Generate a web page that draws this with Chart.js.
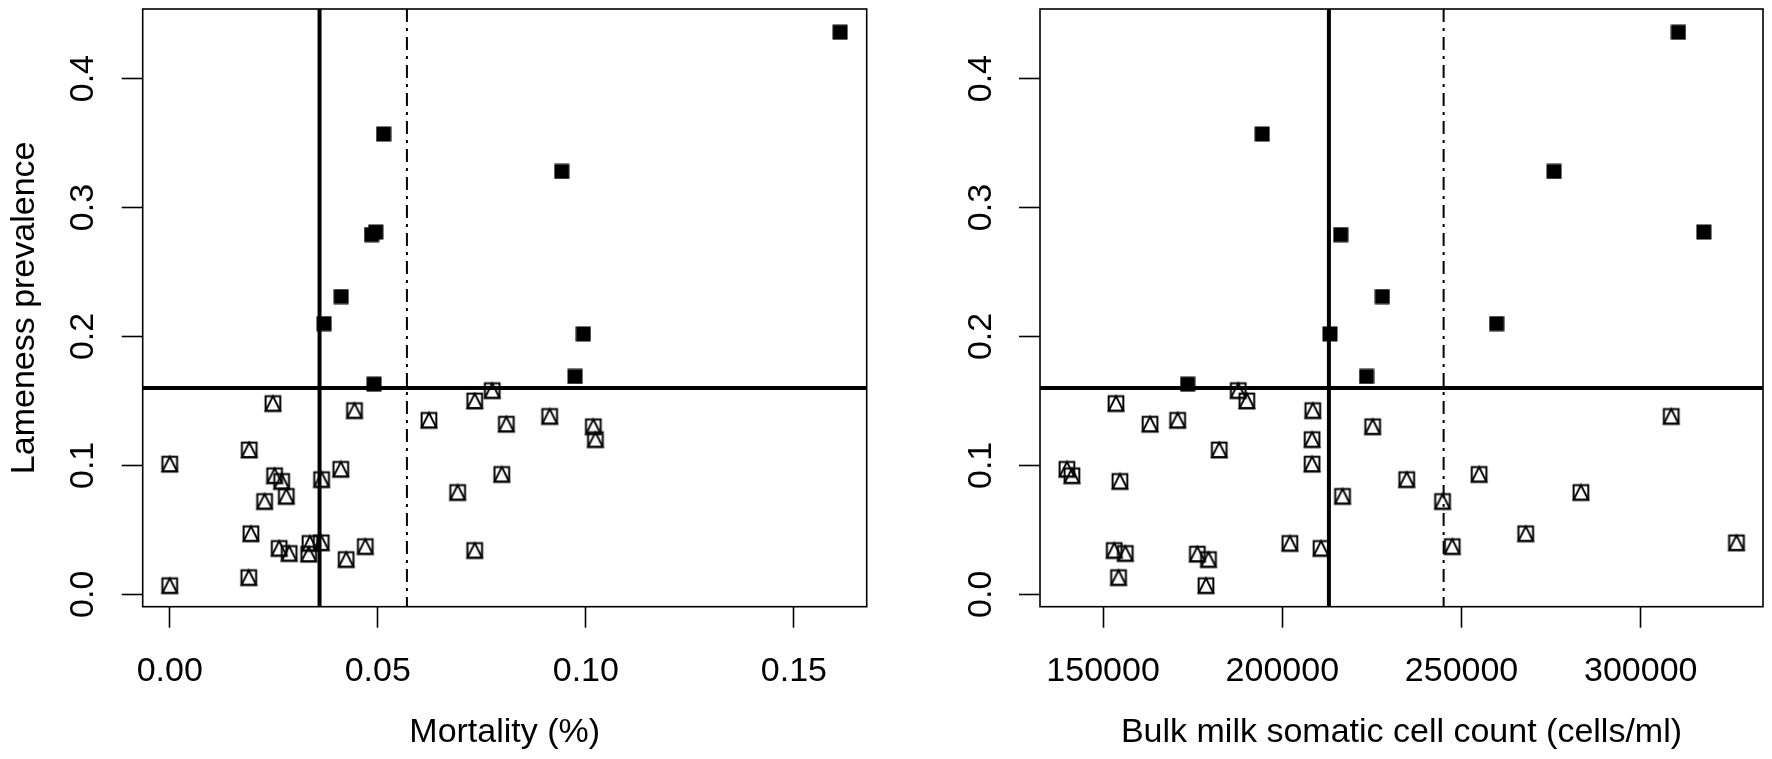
<!DOCTYPE html>
<html><head><meta charset="utf-8">
<script src="https://cdn.jsdelivr.net/npm/chart.js@4/dist/chart.umd.min.js"></script>
<style>
html,body{margin:0;padding:0;background:#fff;overflow:hidden}
#wrap{position:relative;width:1772px;height:759px;background:#fff}
.c{position:absolute;top:0;width:886px;height:759px}
</style></head><body>
<div id="wrap">
<div class="c" style="left:0"><canvas id="left" width="886" height="759"></canvas></div>
<div class="c" style="left:886px"><canvas id="right" width="886" height="759"></canvas></div>
</div>
<script>
// ---- data: farms above the lameness cut-off (filled squares)
const lamenessHigh  = [0.436, 0.357, 0.328, 0.281, 0.279, 0.231, 0.210, 0.202, 0.169, 0.163];
const mortalityHigh = [0.1611, 0.0514, 0.0942, 0.0495, 0.0485, 0.0412, 0.0371, 0.0994, 0.0974, 0.0491];
const sccHigh       = [310500, 194400, 275800, 317600, 216300, 227900, 259800, 213300, 223500, 173600];

// ---- data: farms below the lameness cut-off (square with triangle)
const lamenessLow  = [0.158, 0.150, 0.148, 0.1425, 0.138, 0.135, 0.132, 0.130, 0.120, 0.112,
                      0.101, 0.097, 0.093, 0.092, 0.089, 0.0876, 0.079, 0.076, 0.072, 0.047,
                      0.040, 0.0395, 0.037, 0.0356, 0.034, 0.0317, 0.0312, 0.027, 0.013, 0.0067];
const mortalityLow = [0.0775, 0.0733, 0.0248, 0.0444, 0.0913, 0.0623, 0.0809, 0.1018, 0.1023, 0.0191,
                      0.0000, 0.0411, 0.0798, 0.0252, 0.0365, 0.0269, 0.0692, 0.0280, 0.0228, 0.0195,
                      0.0364, 0.0337, 0.0470, 0.0263, 0.0733, 0.0287, 0.0334, 0.0424, 0.0190, 0.0000];
const sccLow       = [187700, 190100, 153600, 208500, 308500, 170800, 163100, 225200, 208300, 182400,
                      208300, 139900, 254900, 141300, 234700, 154700, 283300, 216800, 244700, 267900,
                      326700, 202100, 247400, 210800, 153100, 156200, 176300, 179400, 154300, 178700];

// ---- reference lines
const lamenessCut  = 0.16;
const mortalityCut = 0.036;
const mortalityAlt = 0.057;
const sccCut       = 213000;
const sccAlt       = 245000;

// ---- axes
const lamenessRange  = [-0.0096, 0.454];
const mortalityRange = [-0.0065, 0.1675];
const sccRange       = [132400, 334100];
const lamenessTicks  = [0.0, 0.1, 0.2, 0.3, 0.4];
const mortalityTicks = [0.00, 0.05, 0.10, 0.15];
const sccTicks       = [150000, 200000, 250000, 300000];

const FONT = '"Liberation Sans", Arial, Helvetica, sans-serif';

function markerOpen() {
  const c = document.createElement('canvas'); c.width = 20; c.height = 20;
  const g = c.getContext('2d');
  g.strokeStyle = '#000'; g.lineWidth = 2; g.lineJoin = 'miter';
  const a = 2.65, b = 17.35;
  g.strokeRect(a, a, b - a, b - a);
  g.beginPath(); g.moveTo(a, b); g.lineTo(10, a); g.lineTo(b, b); g.closePath(); g.stroke();
  return c;
}
function markerFilled() {
  const c = document.createElement('canvas'); c.width = 16; c.height = 16;
  const g = c.getContext('2d');
  g.fillStyle = '#000'; g.fillRect(0.5, 0.5, 15, 15);
  return c;
}
const openImg = markerOpen();
const fillImg = markerFilled();

const framePlugin = {
  id: 'frame',
  afterDraw(chart) {
    const {ctx, chartArea: a} = chart;
    ctx.save(); ctx.strokeStyle = '#000'; ctx.lineWidth = 1.6;
    ctx.strokeRect(a.left, a.top, a.right - a.left, a.bottom - a.top);
    ctx.restore();
  }
};

function pts(xs, ys) { return xs.map((v, i) => ({x: v, y: ys[i]})); }

function makeChart(id, cfg) {
  const hLine = [{x: cfg.xRange[0], y: lamenessCut}, {x: cfg.xRange[1], y: lamenessCut}];
  const vLine = [{x: cfg.cut, y: lamenessRange[1]}, {x: cfg.cut, y: lamenessRange[0]}];
  const dLine = [{x: cfg.alt, y: lamenessRange[1]}, {x: cfg.alt, y: lamenessRange[0]}];
  const lineDs = (data, w, dash) => ({type: 'line', data, showLine: true, borderColor: '#000',
      borderWidth: w, borderDash: dash || [], pointRadius: 0, fill: false, tension: 0, order: 0});
  return new Chart(document.getElementById(id), {
    type: 'scatter',
    data: {
      datasets: [
        {data: pts(cfg.xLow, lamenessLow), pointStyle: openImg, pointRadius: 8, order: 2},
        {data: pts(cfg.xHigh, lamenessHigh), pointStyle: fillImg, pointRadius: 8, order: 2},
        lineDs(hLine, 4),
        lineDs(vLine, 4),
        lineDs(dLine, 2, [13, 6, 3, 6])
      ]
    },
    options: {
      responsive: false, animation: false, devicePixelRatio: 1,
      layout: {padding: {left: 0, right: cfg.padRight, top: 7.3, bottom: 0}},
      plugins: {legend: {display: false}, tooltip: {enabled: false}},
      scales: {
        x: {
          type: 'linear', position: 'bottom', min: cfg.xRange[0], max: cfg.xRange[1],
          afterBuildTicks: s => { s.ticks = cfg.xTicks.map(v => ({value: v})); },
          afterFit: s => { s.height = 152.3; s.paddingLeft = 0; s.paddingRight = 0; },
          border: {display: false},
          grid: {display: true, drawOnChartArea: false, drawTicks: true, tickLength: 21, tickWidth: 1.6, tickColor: '#000'},
          ticks: {color: '#000', padding: 27, autoSkip: false, maxRotation: 0, minRotation: 0,
                  font: {family: FONT, size: 34, lineHeight: 1}, callback: cfg.xFmt},
          title: {display: true, text: cfg.xTitle, color: '#000',
                  font: {family: FONT, size: 34, lineHeight: 1}, padding: {top: 0, bottom: 9}}
        },
        y: {
          type: 'linear', position: 'left', min: lamenessRange[0], max: lamenessRange[1],
          afterBuildTicks: s => { s.ticks = lamenessTicks.map(v => ({value: v})); },
          afterFit: s => { s.width = cfg.yWidth; s.paddingTop = 0; s.paddingBottom = 0; },
          border: {display: false},
          grid: {display: true, drawOnChartArea: false, drawTicks: true, tickLength: 21, tickWidth: 1.6, tickColor: '#000'},
          ticks: {color: '#000', padding: 14, autoSkip: false, minRotation: 90, maxRotation: 90, crossAlign: 'center',
                  font: {family: FONT, size: 34, lineHeight: 1}, callback: v => v.toFixed(1)},
          title: {display: cfg.yTitle !== '', text: cfg.yTitle, color: '#000',
                  font: {family: FONT, size: 34, lineHeight: 1}, padding: {top: 8, bottom: 0}}
        }
      }
    },
    plugins: [framePlugin]
  });
}

makeChart('left', {
  xLow: mortalityLow, xHigh: mortalityHigh, xRange: mortalityRange, xTicks: mortalityTicks,
  cut: mortalityCut, alt: mortalityAlt, xTitle: 'Mortality (%)', yTitle: 'Lameness prevalence',
  xFmt: v => v.toFixed(2), yWidth: 142.7, padRight: 19.3
});
makeChart('right', {
  xLow: sccLow, xHigh: sccHigh, xRange: sccRange, xTicks: sccTicks,
  cut: sccCut, alt: sccAlt, xTitle: 'Bulk milk somatic cell count (cells/ml)', yTitle: '',
  xFmt: v => String(v), yWidth: 154, padRight: 8.7
});
</script>
</body></html>
